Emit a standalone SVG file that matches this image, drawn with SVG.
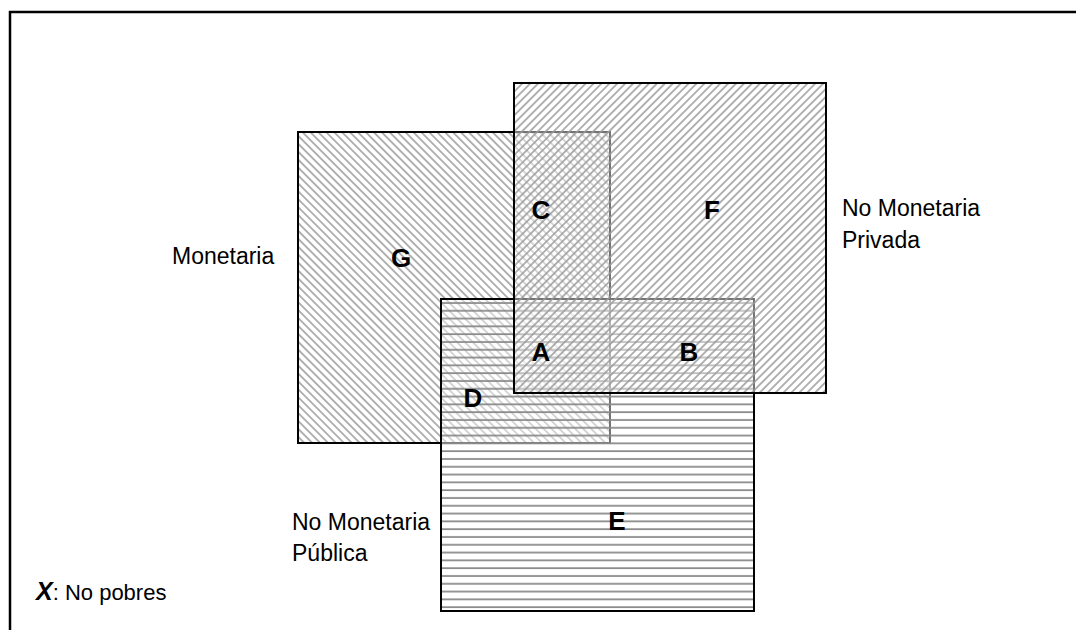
<svg xmlns="http://www.w3.org/2000/svg" width="1076" height="630" viewBox="0 0 1076 630">
<style>
.lbl{font-family:"Liberation Sans",Arial,sans-serif;font-size:23px;fill:#000}
.let{font-family:"Liberation Sans",Arial,sans-serif;font-size:26px;font-weight:bold;fill:#000;text-anchor:middle}
.box{stroke:#000;stroke-width:2}
</style>
<defs>
<pattern id="pG" patternUnits="userSpaceOnUse" width="5.6" height="5.6" patternTransform="rotate(45)">
<rect width="5.6" height="5.6" fill="#fff" fill-opacity="0.45"/>
<line x1="0" y1="2.8" x2="5.6" y2="2.8" stroke="#9a9a9a" stroke-width="1.5"/>
</pattern>
<pattern id="pF" patternUnits="userSpaceOnUse" width="5.6" height="5.6" patternTransform="rotate(-45)">
<rect width="5.6" height="5.6" fill="#fff" fill-opacity="0.45"/>
<line x1="0" y1="2.8" x2="5.6" y2="2.8" stroke="#9a9a9a" stroke-width="1.5"/>
</pattern>
<pattern id="pE" patternUnits="userSpaceOnUse" x="0" y="299" width="8" height="7.8">
<rect width="8" height="7.8" fill="#fff" fill-opacity="0.45"/>
<line x1="0" y1="4" x2="8" y2="4" stroke="#8a8a8a" stroke-width="1.8"/>
</pattern>
</defs>
<rect width="1076" height="630" fill="#fff"/>
<path d="M10 631 V12 H1077" fill="none" stroke="#000" stroke-width="2.5"/>
<g id="G">
<rect class="box" x="298" y="132" width="312" height="311" fill="url(#pG)"/>
</g>
<g id="E">
<rect class="box" x="441" y="299" width="313" height="312" fill="url(#pE)"/>
</g>
<g id="F">
<rect class="box" x="514" y="83" width="312" height="310" fill="url(#pF)"/>
</g>
<g id="connectors"></g>
<g id="labels">
<text class="let" x="401" y="267">G</text>
<text class="let" x="541" y="219">C</text>
<text class="let" x="712" y="219">F</text>
<text class="let" x="541" y="361">A</text>
<text class="let" x="689" y="361">B</text>
<text class="let" x="473" y="407">D</text>
<text class="let" x="617" y="530">E</text>
<text class="lbl" x="172" y="264">Monetaria</text>
<text class="lbl" x="842" y="216">No Monetaria</text>
<text class="lbl" x="842" y="248">Privada</text>
<text class="lbl" x="292" y="530">No Monetaria</text>
<text class="lbl" x="292" y="561">Pública</text>
<text x="36" y="600" style="font-family:'Liberation Sans',Arial,sans-serif;fill:#000"><tspan font-size="25" font-weight="bold" font-style="italic">X</tspan><tspan font-size="22">: No pobres</tspan></text>
</g>
</svg>
